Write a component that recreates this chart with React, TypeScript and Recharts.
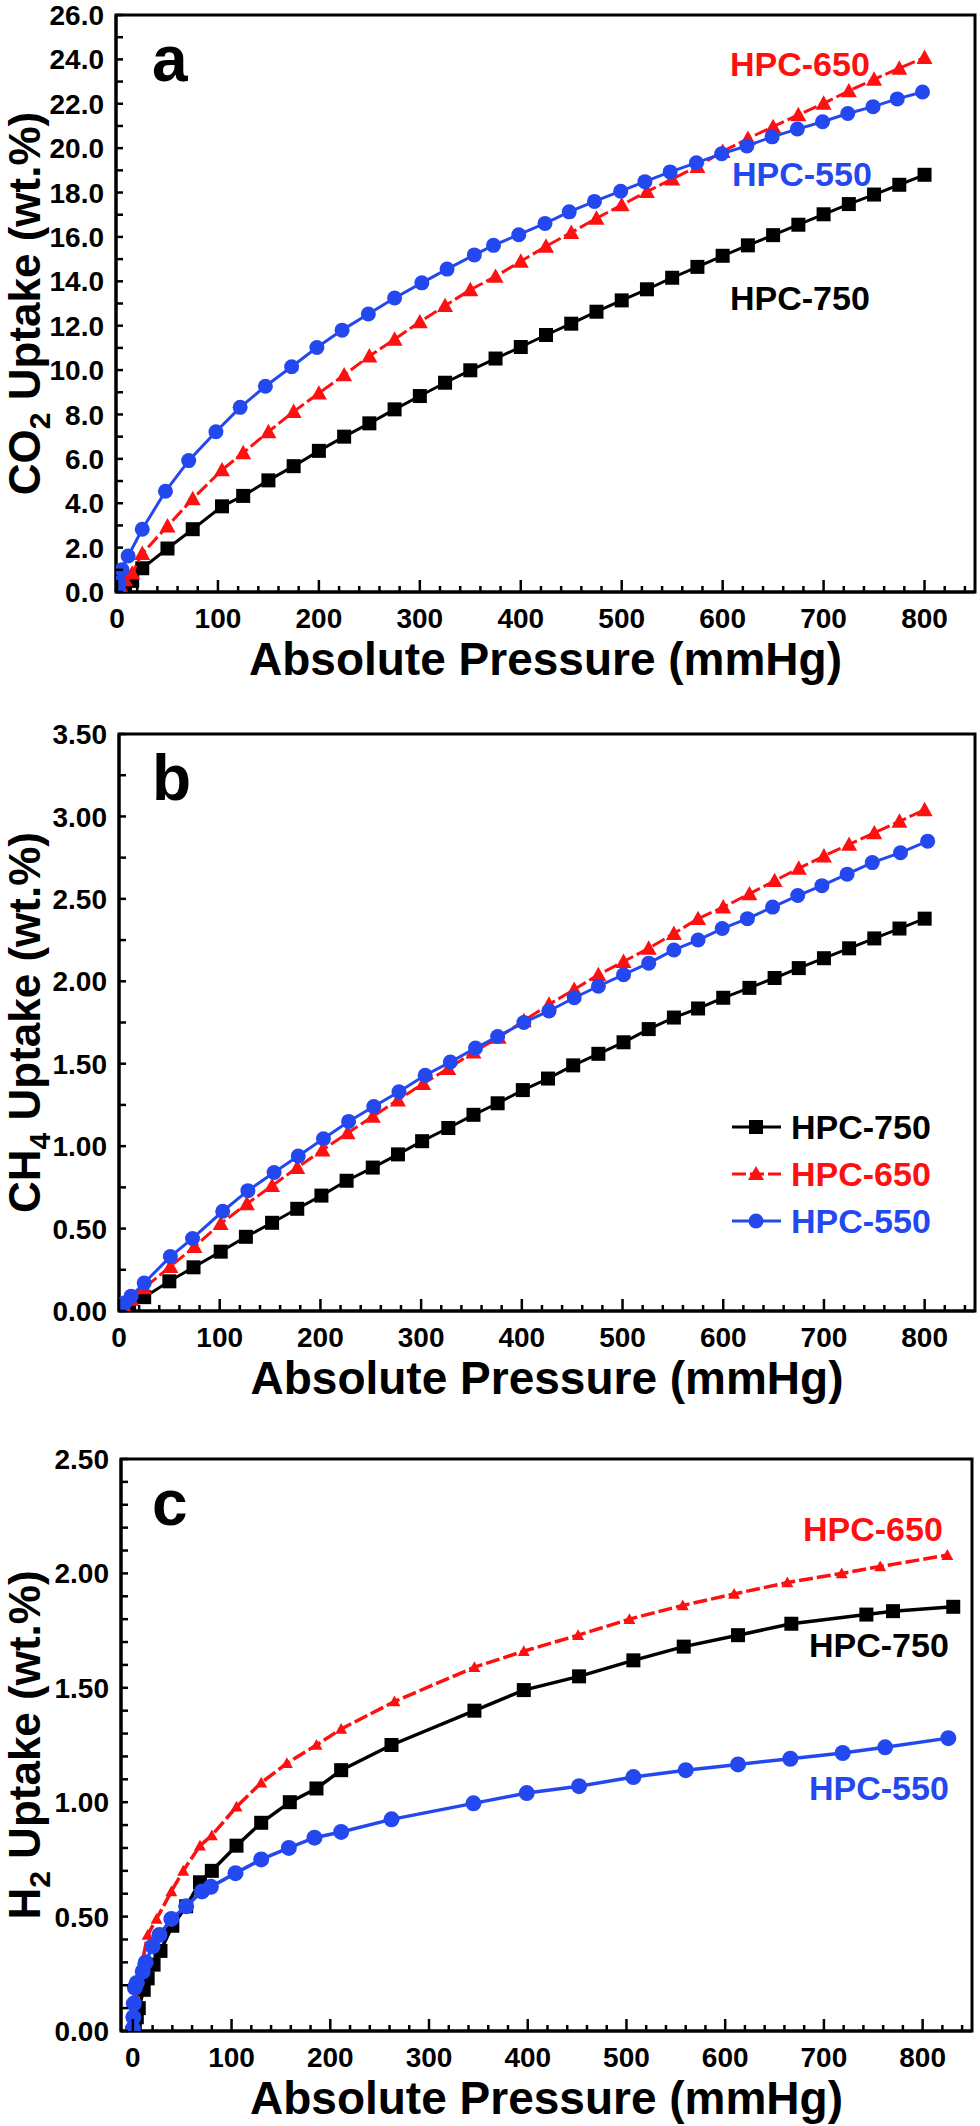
import React from 'react';
import { ScatterChart, Scatter, XAxis, YAxis, Customized } from 'recharts';

// ---- panel a: CO2 ----
const co2X750 = [1, 4, 8, 15, 25, 50, 75, 104, 125, 150, 175, 200, 225, 250, 275, 300, 325, 350, 375, 400, 425, 450, 475, 500, 525, 550, 575, 600, 625, 650, 675, 700, 725, 750, 775, 800];
const co2Y750 = [0.03, 0.1, 0.2, 0.5, 1.07, 1.96, 2.83, 3.86, 4.33, 5.03, 5.67, 6.36, 7.0, 7.6, 8.23, 8.83, 9.43, 9.99, 10.52, 11.04, 11.58, 12.09, 12.63, 13.14, 13.64, 14.16, 14.65, 15.15, 15.62, 16.08, 16.55, 17.02, 17.48, 17.91, 18.35, 18.8];
const co2X650 = [0.5, 3, 8, 15, 25, 50, 75, 104, 125, 150, 175, 200, 225, 250, 275, 300, 325, 350, 375, 400, 425, 450, 475, 500, 525, 550, 575, 600, 625, 650, 675, 700, 725, 750, 775, 800];
const co2Y650 = [0.05, 0.3, 0.55, 0.85, 1.73, 2.97, 4.2, 5.5, 6.27, 7.22, 8.13, 8.96, 9.78, 10.63, 11.39, 12.17, 12.9, 13.62, 14.22, 14.9, 15.58, 16.2, 16.84, 17.44, 18.04, 18.61, 19.17, 19.85, 20.43, 20.97, 21.5, 22.02, 22.58, 23.1, 23.6, 24.08];
const co2X550 = [0.5, 2, 5, 11, 25, 48, 71, 98, 122, 147, 173, 198, 223, 249, 275, 302, 327, 354, 373, 398, 424, 448, 473, 499, 523, 548, 574, 599, 624, 649, 674, 699, 724, 749, 773, 798];
const co2Y550 = [0.1, 0.4, 1.0, 1.62, 2.83, 4.54, 5.92, 7.22, 8.32, 9.27, 10.15, 11.02, 11.8, 12.53, 13.25, 13.93, 14.55, 15.19, 15.62, 16.1, 16.61, 17.13, 17.6, 18.06, 18.49, 18.93, 19.34, 19.75, 20.1, 20.51, 20.86, 21.19, 21.56, 21.87, 22.22, 22.53];

// ---- panel b: CH4 ----
const ch4X750 = [0, 10, 25, 50, 74, 101, 126, 152, 177, 201, 226, 252, 277, 301, 327, 352, 376, 401, 426, 451, 476, 501, 526, 551, 575, 600, 626, 651, 675, 700, 725, 750, 775, 800];
const ch4Y750 = [0.0, 0.03, 0.084, 0.18, 0.265, 0.36, 0.45, 0.535, 0.62, 0.7, 0.79, 0.87, 0.95, 1.03, 1.11, 1.19, 1.26, 1.34, 1.41, 1.49, 1.56, 1.63, 1.71, 1.78, 1.835, 1.9, 1.96, 2.02, 2.08, 2.14, 2.2, 2.26, 2.32, 2.38];
const ch4X650 = [0, 5, 12, 25, 51, 75, 101, 127, 152, 177, 202, 227, 252, 277, 302, 327, 352, 377, 402, 427, 452, 476, 501, 526, 551, 575, 600, 626, 651, 675, 700, 725, 750, 775, 800];
const ch4Y650 = [0.0, 0.03, 0.07, 0.14, 0.27, 0.39, 0.53, 0.65, 0.76, 0.87, 0.976, 1.08, 1.18, 1.28, 1.38, 1.47, 1.57, 1.66, 1.76, 1.86, 1.95, 2.04, 2.12, 2.2, 2.29, 2.38, 2.45, 2.53, 2.61, 2.685, 2.76, 2.83, 2.9, 2.97, 3.04];
const ch4X550 = [1, 6, 12, 25, 51, 73, 103, 128, 154, 178, 203, 228, 253, 278, 304, 329, 354, 376, 402, 427, 452, 476, 501, 526, 551, 575, 599, 624, 649, 674, 698, 723, 748, 776, 803];
const ch4Y550 = [0.01, 0.05, 0.09, 0.17, 0.33, 0.44, 0.605, 0.73, 0.84, 0.94, 1.045, 1.15, 1.24, 1.33, 1.43, 1.51, 1.595, 1.665, 1.75, 1.82, 1.9, 1.97, 2.04, 2.11, 2.19, 2.25, 2.32, 2.38, 2.45, 2.52, 2.58, 2.65, 2.72, 2.78, 2.85];

// ---- panel c: H2 ----
const h2X750 = [2, 4, 6, 11, 15, 21, 28, 40, 54, 68, 80, 105, 130, 159, 186, 211, 262, 346, 396, 452, 507, 558, 613, 667, 743, 770, 831];
const h2Y750 = [0.02, 0.06, 0.1, 0.18, 0.23, 0.29, 0.35, 0.46, 0.545, 0.65, 0.7, 0.81, 0.91, 1.0, 1.06, 1.14, 1.25, 1.4, 1.49, 1.55, 1.62, 1.68, 1.73, 1.78, 1.82, 1.835, 1.854];
const h2X650 = [0, 1, 3, 6, 10, 15, 24, 39, 51, 68, 80, 105, 130, 156, 186, 211, 265, 346, 396, 451, 503, 557, 609, 663, 718, 757, 825];
const h2Y650 = [0.02, 0.08, 0.15, 0.23, 0.31, 0.42, 0.49, 0.61, 0.7, 0.81, 0.855, 0.98, 1.085, 1.17, 1.25, 1.32, 1.44, 1.59, 1.66, 1.73, 1.8, 1.86, 1.91, 1.96, 2.0, 2.03, 2.08];
const h2X550 = [0, 0.5, 1, 2, 4, 10, 13, 20, 27, 39, 54, 70, 79, 104, 130, 158, 184, 211, 262, 345, 399, 452, 507, 560, 613, 666, 719, 762, 826];
const h2Y550 = [0.01, 0.06, 0.12, 0.19, 0.21, 0.26, 0.3, 0.37, 0.42, 0.49, 0.545, 0.61, 0.63, 0.69, 0.75, 0.8, 0.845, 0.87, 0.925, 0.995, 1.04, 1.07, 1.11, 1.14, 1.165, 1.19, 1.215, 1.24, 1.28];

// ---- tick labels ----
const pressureLabels = [0, 100, 200, 300, 400, 500, 600, 700, 800];
const co2Labels = [0, 2, 4, 6, 8, 10, 12, 14, 16, 18, 20, 22, 24, 26];
const ch4Labels = [0, 0.5, 1.0, 1.5, 2.0, 2.5, 3.0, 3.5];
const h2Labels = [0, 0.5, 1.0, 1.5, 2.0, 2.5];
const seriesNames = ['HPC-750', 'HPC-650', 'HPC-550'];

const FONT = '"Liberation Sans", Arial, Helvetica, sans-serif';
const BLACK = '#000000';
const RED = '#FF1010';
const BLUE = '#2448F0';

const pts = (xs: number[], ys: number[]) => xs.map((x, i) => ({ x, y: ys[i] }));

const steps = (from: number, to: number, step: number) => {
  const out: number[] = [];
  for (let v = from; v <= to + 1e-9; v += step) out.push(Math.round(v * 1000) / 1000);
  return out;
};

const isMajor = (v: number, labels: number[]) => labels.some((l) => Math.abs(l - v) < 1e-6);

const squareShape = (s: number) => (p: any) => (
  <rect x={p.cx - s} y={p.cy - s} width={s * 2} height={s * 2} fill={BLACK} />
);
const triangleShape = (s: number) => (p: any) => (
  <polygon points={`${p.cx},${p.cy - s} ${p.cx + s},${p.cy + s * 0.8} ${p.cx - s},${p.cy + s * 0.8}`} fill={RED} />
);
const circleShape = (r: number) => (p: any) => <circle cx={p.cx} cy={p.cy} r={r} fill={BLUE} />;

function XTick(props: any) {
  const { x, y, payload, labels } = props;
  const major = isMajor(payload.value, labels);
  return (
    <g>
      <line x1={x} x2={x} y1={y} y2={y - (major ? 12 : 6)} stroke={BLACK} strokeWidth={2.5} />
      {major && (
        <text x={x} y={y + 36} textAnchor="middle" fontSize={28} fontWeight="bold" fontFamily={FONT} fill={BLACK}>
          {payload.value}
        </text>
      )}
    </g>
  );
}

function YTick(props: any) {
  const { x, y, payload, labels, digits } = props;
  const major = isMajor(payload.value, labels);
  return (
    <g>
      <line x1={x} x2={x + 7} y1={y} y2={y} stroke={BLACK} strokeWidth={2.5} />
      {major && (
        <text x={x - 12} y={y} dy="0.36em" textAnchor="end" fontSize={28} fontWeight="bold" fontFamily={FONT} fill={BLACK}>
          {payload.value.toFixed(digits)}
        </text>
      )}
    </g>
  );
}

const txt = { fontFamily: FONT, fontWeight: 'bold' as const };

function Panel(props: any) {
  const {
    top, height, plotTop, plotBottom, plotLeft, plotRight, lineW,
    xDomain, yDomain, yTicks, yLabels, digits, letter, gas, sub, children, s750, s650, s550,
  } = props;
  const mTop = plotTop - top;
  const xH = top + height - plotBottom;
  const midY = (plotTop + plotBottom) / 2 - top;
  const midX = (plotLeft + plotRight) / 2;
  const overlay = () => (
    <g>
      <rect x={plotLeft} y={mTop} width={plotRight - plotLeft} height={plotBottom - plotTop} fill="none" stroke={BLACK} strokeWidth={3} />
      <text x={152} y={mTop + 66} fontSize={64} {...txt} fill={BLACK}>{letter}</text>
      <text x={midX} y={plotBottom - top + 83} textAnchor="middle" fontSize={46} {...txt} fill={BLACK}>
        Absolute Pressure (mmHg)
      </text>
      <text transform={`rotate(-90, 40, ${midY})`} x={40} y={midY} textAnchor="middle" fontSize={44} {...txt} fill={BLACK}>
        {gas}
        <tspan fontSize={30} dy={10}>{sub}</tspan>
        <tspan dy={-10}> Uptake (wt.%)</tspan>
      </text>
      {children}
    </g>
  );
  return (
    <div style={{ position: 'absolute', left: 0, top, width: 980, height }}>
      <ScatterChart width={980} height={height} margin={{ top: mTop, right: 980 - plotRight, left: 0, bottom: 0 }}>
        <XAxis
          type="number"
          dataKey="x"
          domain={xDomain}
          allowDataOverflow
          ticks={steps(0, 840, 20)}
          interval={0}
          tickSize={0}
          tickMargin={0}
          height={xH}
          axisLine={{ stroke: BLACK, strokeWidth: 3 }}
          tick={(p: any) => <XTick {...p} labels={pressureLabels} />}
        />
        <YAxis
          type="number"
          dataKey="y"
          domain={yDomain}
          allowDataOverflow
          ticks={yTicks}
          interval={0}
          tickSize={0}
          tickMargin={0}
          width={plotLeft}
          axisLine={{ stroke: BLACK, strokeWidth: 3 }}
          tick={(p: any) => <YTick {...p} labels={yLabels} digits={digits} />}
        />
        <Scatter
          name={seriesNames[0]}
          data={s750.data}
          isAnimationActive={false}
          line={{ stroke: BLACK, strokeWidth: lineW }}
          shape={s750.shape}
        />
        <Scatter
          name={seriesNames[1]}
          data={s650.data}
          isAnimationActive={false}
          line={{ stroke: RED, strokeWidth: lineW, strokeDasharray: '14 4' }}
          shape={s650.shape}
        />
        <Scatter
          name={seriesNames[2]}
          data={s550.data}
          isAnimationActive={false}
          line={{ stroke: BLUE, strokeWidth: lineW }}
          shape={s550.shape}
        />
        <Customized component={overlay} />
      </ScatterChart>
    </div>
  );
}

function LegendRow({ y, color, marker, label }: any) {
  return (
    <g>
      <line x1={732} x2={781} y1={y} y2={y} stroke={color} strokeWidth={3} strokeDasharray={color === RED ? '14 4' : undefined} />
      {marker}
      <text x={791} y={y + 12} fontSize={34} {...txt} fill={color}>{label}</text>
    </g>
  );
}

export default function App() {
  return (
    <div style={{ position: 'absolute', left: 0, top: 0, width: 980, height: 2126, background: '#fff' }}>
      <Panel
        top={0} height={710} plotTop={15} plotBottom={592} plotLeft={116} plotRight={975} lineW={3}
        xDomain={[-1, 850]} yDomain={[0, 26]} yTicks={steps(0, 26, 1)} yLabels={co2Labels} digits={1}
        letter="a" gas="CO" sub="2"
        s750={{ data: pts(co2X750, co2Y750), shape: squareShape(7) }}
        s650={{ data: pts(co2X650, co2Y650), shape: triangleShape(8) }}
        s550={{ data: pts(co2X550, co2Y550), shape: circleShape(7.5) }}
      >
        <text x={730} y={76} fontSize={34} {...txt} fill={RED}>{seriesNames[1]}</text>
        <text x={732} y={186} fontSize={34} {...txt} fill={BLUE}>{seriesNames[2]}</text>
        <text x={730} y={310} fontSize={34} {...txt} fill={BLACK}>{seriesNames[0]}</text>
      </Panel>
      <Panel
        top={700} height={720} plotTop={734} plotBottom={1311} plotLeft={119} plotRight={975} lineW={3}
        xDomain={[0, 850]} yDomain={[0, 3.5]} yTicks={steps(0, 3.5, 0.25)} yLabels={ch4Labels} digits={2}
        letter="b" gas="CH" sub="4"
        s750={{ data: pts(ch4X750, ch4Y750), shape: squareShape(7) }}
        s650={{ data: pts(ch4X650, ch4Y650), shape: triangleShape(8) }}
        s550={{ data: pts(ch4X550, ch4Y550), shape: circleShape(7.5) }}
      >
        <LegendRow y={427} color={BLACK} label={seriesNames[0]} marker={<rect x={749} y={420} width={14} height={14} fill={BLACK} />} />
        <LegendRow y={474} color={RED} label={seriesNames[1]} marker={<polygon points="756,466 764,480 748,480" fill={RED} />} />
        <LegendRow y={521} color={BLUE} label={seriesNames[2]} marker={<circle cx={756} cy={521} r={7.5} fill={BLUE} />} />
      </Panel>
      <Panel
        top={1400} height={726} plotTop={1459} plotBottom={2031} plotLeft={121} plotRight={972} lineW={3.5}
        xDomain={[-12, 850]} yDomain={[0, 2.5]} yTicks={steps(0, 2.5, 0.1)} yLabels={h2Labels} digits={2}
        letter="c" gas="H" sub="2"
        s750={{ data: pts(h2X750, h2Y750), shape: squareShape(7) }}
        s650={{ data: pts(h2X650, h2Y650), shape: triangleShape(6) }}
        s550={{ data: pts(h2X550, h2Y550), shape: circleShape(8) }}
      >
        <text x={803} y={141} fontSize={34} {...txt} fill={RED}>{seriesNames[1]}</text>
        <text x={809} y={257} fontSize={34} {...txt} fill={BLACK}>{seriesNames[0]}</text>
        <text x={809} y={400} fontSize={34} {...txt} fill={BLUE}>{seriesNames[2]}</text>
      </Panel>
    </div>
  );
}
